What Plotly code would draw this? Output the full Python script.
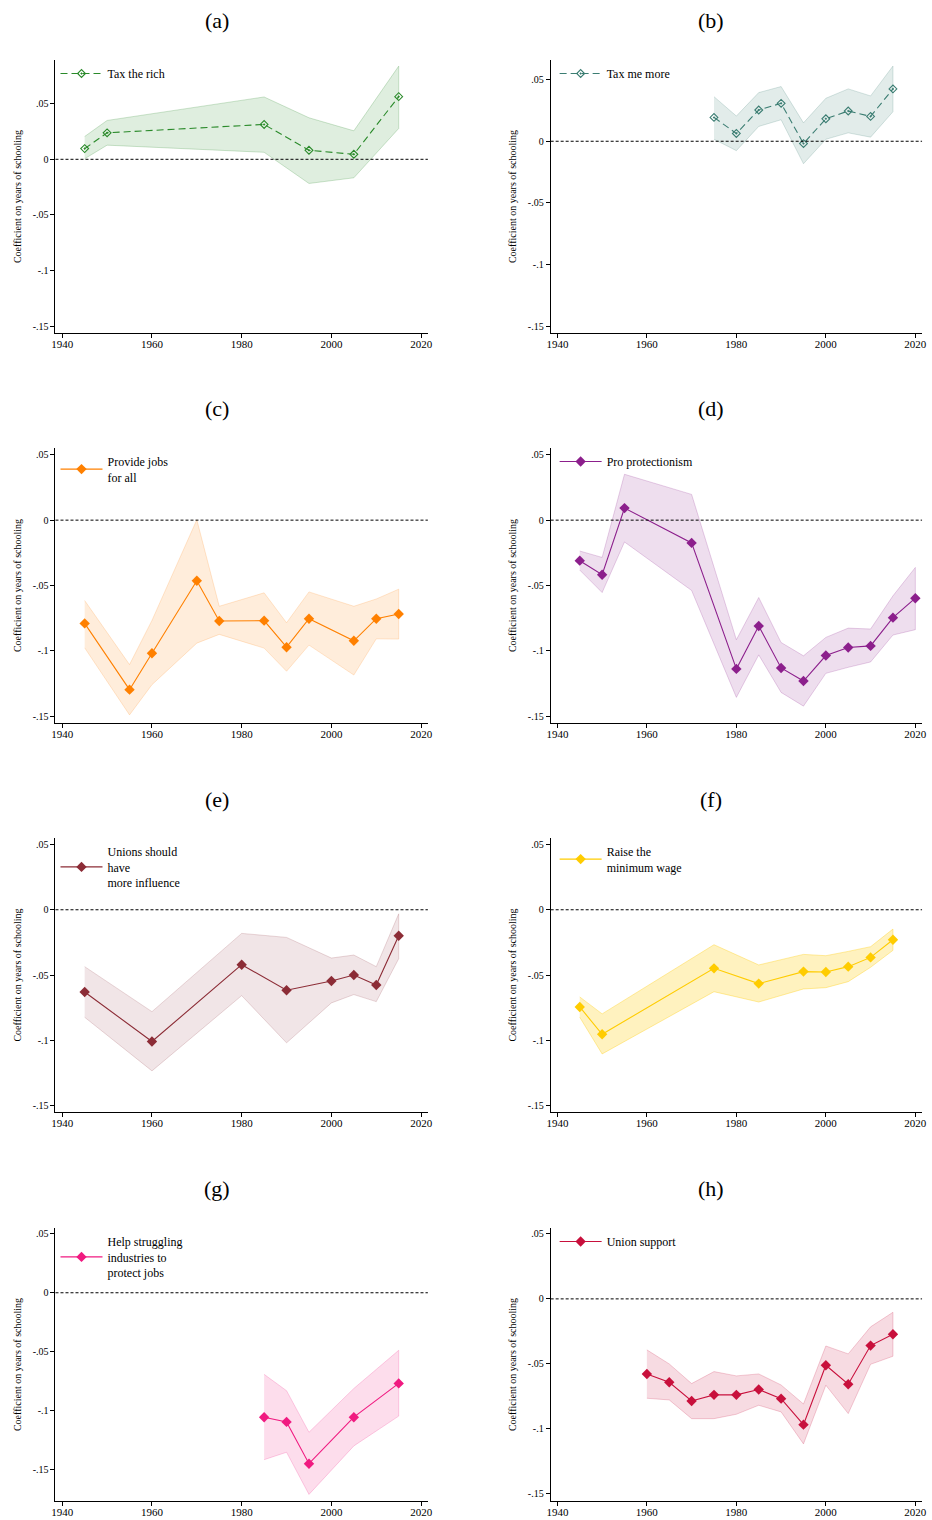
import plotly.graph_objects as go

W, H = 932, 1520

# ---------------- data ----------------
a_year = [1945, 1950, 1985, 1995, 2005, 2015]
a_coef = [0.0096, 0.0238, 0.0313, 0.0081, 0.0045, 0.0563]
a_hi = [0.0205, 0.0349, 0.0560, 0.0373, 0.0256, 0.0837]
a_lo = [0.0005, 0.0127, 0.0063, -0.0217, -0.0166, 0.0277]

b_year = [1975, 1980, 1985, 1990, 1995, 2000, 2005, 2010, 2015]
b_coef = [0.0193, 0.0063, 0.0253, 0.0307, -0.0019, 0.0182, 0.0245, 0.0201, 0.0424]
b_hi = [0.0361, 0.0204, 0.0394, 0.0443, 0.0149, 0.0348, 0.0424, 0.0367, 0.0609]
b_lo = [0.0016, -0.0076, 0.0120, 0.0174, -0.0182, 0.0016, 0.0068, 0.0033, 0.0239]

c_year = [1945, 1955, 1960, 1970, 1975, 1985, 1990, 1995, 2005, 2010, 2015]
c_coef = [-0.0790, -0.1297, -0.1018, -0.0464, -0.0772, -0.0769, -0.0972, -0.0754, -0.0923, -0.0754, -0.0718]
c_hi = [-0.0615, -0.1105, -0.0767, 0.0003, -0.0659, -0.0556, -0.0785, -0.0549, -0.0659, -0.0603, -0.0528]
c_lo = [-0.0977, -0.1490, -0.1259, -0.0941, -0.0874, -0.0979, -0.1156, -0.0956, -0.1185, -0.0908, -0.0910]

d_year = [1945, 1950, 1955, 1970, 1980, 1985, 1990, 1995, 2000, 2005, 2010, 2015, 2020]
d_coef = [-0.0310, -0.0418, 0.0092, -0.0174, -0.1138, -0.0810, -0.1131, -0.1231, -0.1036, -0.0974, -0.0962, -0.0746, -0.0597]
d_hi = [-0.0236, -0.0285, 0.0351, 0.0197, -0.0915, -0.0592, -0.0936, -0.1038, -0.0897, -0.0826, -0.0833, -0.0579, -0.0362]
d_lo = [-0.0382, -0.0554, -0.0167, -0.0538, -0.1356, -0.1031, -0.1318, -0.1423, -0.1172, -0.1126, -0.1085, -0.0879, -0.0838]

e_year = [1945, 1960, 1980, 1990, 2000, 2005, 2010, 2015]
e_coef = [-0.0630, -0.1010, -0.0421, -0.0617, -0.0546, -0.0500, -0.0577, -0.0199]
e_hi = [-0.0436, -0.0781, -0.0181, -0.0212, -0.0370, -0.0347, -0.0436, -0.0031]
e_lo = [-0.0824, -0.1235, -0.0658, -0.1020, -0.0714, -0.0650, -0.0704, -0.0375]

f_year = [1945, 1950, 1975, 1985, 1995, 2000, 2005, 2010, 2015]
f_coef = [-0.0745, -0.0954, -0.0449, -0.0566, -0.0474, -0.0477, -0.0436, -0.0365, -0.0230]
f_hi = [-0.0668, -0.0798, -0.0268, -0.0423, -0.0342, -0.0352, -0.0319, -0.0283, -0.0148]
f_lo = [-0.0824, -0.1105, -0.0628, -0.0707, -0.0607, -0.0597, -0.0551, -0.0441, -0.0311]

g_year = [1985, 1990, 1995, 2005, 2015]
g_coef = [-0.1057, -0.1097, -0.1452, -0.1057, -0.0770]
g_hi = [-0.0693, -0.0832, -0.1185, -0.0813, -0.0489]
g_lo = [-0.1418, -0.1355, -0.1713, -0.1301, -0.1048]

h_year = [1960, 1965, 1970, 1975, 1980, 1985, 1990, 1995, 2000, 2005, 2010, 2015]
h_coef = [-0.0577, -0.0641, -0.0785, -0.0738, -0.0738, -0.0697, -0.0767, -0.0967, -0.0510, -0.0656, -0.0359, -0.0272]
h_hi = [-0.0392, -0.0500, -0.0651, -0.0559, -0.0592, -0.0577, -0.0662, -0.0808, -0.0362, -0.0423, -0.0215, -0.0103]
h_lo = [-0.0764, -0.0777, -0.0921, -0.0921, -0.0887, -0.0818, -0.0869, -0.1115, -0.0664, -0.0882, -0.0503, -0.0441]

panel_tags = ["(a)", "(b)", "(c)", "(d)", "(e)", "(f)", "(g)", "(h)"]
series_names = ["Tax the rich", "Tax me more", "Provide jobs<br>for all", "Pro protectionism",
                "Unions should<br>have<br>more influence", "Raise the<br>minimum wage",
                "Help struggling<br>industries to<br>protect jobs", "Union support"]
x_ticks = [1940, 1960, 1980, 2000, 2020]
y_tickvals = [0.05, 0, -0.05, -0.1, -0.15]
y_ticktext = [".05", "0", "-.05", "-.1", "-.15"]
y_title = "Coefficient on years of schooling"

# ---------------- styling ----------------
panels = [
    (a_year, a_coef, a_hi, a_lo),
    (b_year, b_coef, b_hi, b_lo),
    (c_year, c_coef, c_hi, c_lo),
    (d_year, d_coef, d_hi, d_lo),
    (e_year, e_coef, e_hi, e_lo),
    (f_year, f_coef, f_hi, f_lo),
    (g_year, g_coef, g_hi, g_lo),
    (h_year, h_coef, h_hi, h_lo),
]
line_colors = ["#2a8a2a", "#3b7d72", "#ff8000", "#8c1f8c", "#8c2c36", "#ffcc00", "#f01a80", "#c8103c"]
fill_colors = ["rgba(42,138,42,0.15)", "rgba(59,125,114,0.15)", "rgba(255,128,0,0.14)",
               "rgba(140,31,140,0.15)", "rgba(140,44,54,0.12)", "rgba(255,204,0,0.25)",
               "rgba(240,26,128,0.15)", "rgba(200,16,60,0.15)"]
edge_colors = ["rgba(42,138,42,0.22)", "rgba(59,125,114,0.2)", "rgba(255,128,0,0.18)",
               "rgba(140,31,140,0.2)", "rgba(140,44,54,0.18)", "rgba(255,204,0,0.35)",
               "rgba(240,26,128,0.2)", "rgba(200,16,60,0.2)"]
hollow = [True, True, False, False, False, False, False, False]
y_ranges = [(-0.156, 0.0892), (-0.1553, 0.0658), (-0.1552, 0.0552), (-0.1552, 0.0552),
            (-0.155, 0.055), (-0.155, 0.055), (-0.1769, 0.055), (-0.1554, 0.0545)]
x_range = (1938.5, 2021.5)

col_px = [(52, 428), (552, 927)]
legend_shift = [0, 4]
row_px = [(60, 333), (448, 723), (838, 1112), (1228, 1501)]
title_y_px = [20, 409, 799, 1188]
title_x_px = [215, 714]

FONT = "Liberation Serif"

fig = go.Figure()
layout = dict(
    width=W, height=H, margin=dict(l=0, r=0, t=0, b=0),
    paper_bgcolor="white", plot_bgcolor="white",
    font=dict(family=FONT, color="black", size=11),
    showlegend=True,
)
annotations = []
shapes = []

for i, (yr, coef, hi, lo) in enumerate(panels):
    r, c = divmod(i, 2)
    n = i + 1
    xa = "x" if n == 1 else f"x{n}"
    ya = "y" if n == 1 else f"y{n}"
    leg = "legend" if n == 1 else f"legend{n}"
    # confidence band
    fig.add_trace(go.Scatter(
        x=list(yr) + list(yr)[::-1], y=list(hi) + list(lo)[::-1],
        fill="toself", fillcolor=fill_colors[i], mode="lines",
        line=dict(color=edge_colors[i], width=1), hoverinfo="skip",
        showlegend=False, xaxis=xa, yaxis=ya, legend=leg,
    ))
    if hollow[i]:
        marker = dict(symbol="diamond-open-dot", size=6, color=line_colors[i],
                      line=dict(color=line_colors[i], width=1.1))
        line = dict(color=line_colors[i], width=1.1, dash="7px,4px")
    else:
        marker = dict(symbol="diamond", size=8, color=line_colors[i])
        line = dict(color=line_colors[i], width=1.1)
    fig.add_trace(go.Scatter(
        x=yr, y=coef, mode="lines+markers", name=series_names[i],
        line=line, marker=marker, xaxis=xa, yaxis=ya, legend=leg,
    ))
    x0, x1 = col_px[c]
    t, b = row_px[r]
    xdom = [x0 / W, x1 / W]
    ydom = [1 - b / H, 1 - t / H]
    xkey = "xaxis" if n == 1 else f"xaxis{n}"
    ykey = "yaxis" if n == 1 else f"yaxis{n}"
    layout[xkey] = dict(
        domain=xdom, anchor=ya, range=list(x_range), tickvals=x_ticks,
        ticks="outside", ticklen=4, tickcolor="black", showline=True,
        linecolor="black", linewidth=1, showgrid=False, zeroline=False,
        tickfont=dict(size=11, family=FONT), fixedrange=True,
        ticklabelstandoff=-3,
    )
    layout[ykey] = dict(
        domain=ydom, anchor=xa, range=list(y_ranges[i]), tickvals=y_tickvals,
        ticktext=y_ticktext, ticks="outside", ticklen=4, tickcolor="black",
        showline=True, linecolor="black", linewidth=1, showgrid=False,
        zeroline=False, tickfont=dict(size=10, family=FONT), fixedrange=True,
        title=dict(text=y_title, font=dict(size=10, family=FONT), standoff=9),
    )
    layout[leg] = dict(
        x=(x0 + legend_shift[c]) / W, y=1 - (t - 1) / H, xanchor="left", yanchor="top",
        bgcolor="rgba(0,0,0,0)", borderwidth=0, itemwidth=42,
        font=dict(size=12, family=FONT), valign="middle",
    )
    shapes.append(dict(
        type="line", xref=f"{xa} domain", yref=ya, x0=0, x1=1, y0=0, y1=0,
        line=dict(color="black", width=1, dash="3px,2px"), layer="above",
    ))
    annotations.append(dict(
        text=panel_tags[i], xref="paper", yref="paper",
        x=title_x_px[c] / W, y=1 - title_y_px[r] / H, xanchor="center",
        yanchor="middle", showarrow=False, font=dict(size=22, family=FONT),
    ))

layout["annotations"] = annotations
layout["shapes"] = shapes
fig.update_layout(**layout)
fig.write_html("out.html")
